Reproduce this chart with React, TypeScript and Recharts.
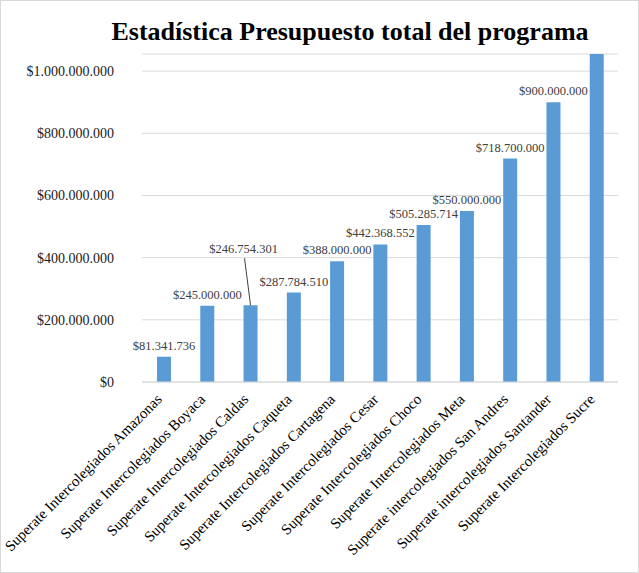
import React from 'react';
import { BarChart, Bar, XAxis, YAxis, CartesianGrid, LabelList } from 'recharts';

// program budget per location
const programas = [
  'Superate Intercolegiados Amazonas',
  'Superate Intercolegiados Boyaca',
  'Superate Intercolegiados Caldas',
  'Superate Intercolegiados Caqueta',
  'Superate Intercolegiados Cartagena',
  'Superate Intercolegiados Cesar',
  'Superate Intercolegiados Choco',
  'Superate Intercolegiados Meta',
  'Superate intercolegiados San Andres',
  'Superate intercolegiados Santander',
  'Superate Intercolegiados Sucre',
];
const presupuesto = [
  81341736, 245000000, 246754301, 287784510, 388000000, 442368552,
  505285714, 550000000, 718700000, 900000000, 1055000000,
];
const yTicks = [0, 200000000, 400000000, 600000000, 800000000, 1000000000];

const data = programas.map((name, i) => ({ name, value: presupuesto[i] }));

const serif = '"Liberation Serif", "Times New Roman", serif';

const money = (v: number) => '$' + String(Math.round(v)).replace(/\B(?=(\d{3})+(?!\d))/g, '.');

const XTick = (props: any) => {
  const { x, y, payload } = props;
  return (
    <g transform={`translate(${x - 5},${y + 6})`}>
      <text x={0} y={0} dy={6} textAnchor="end" transform="rotate(-45)" fill="#000" fontSize={15} fontFamily={serif}>
        {payload.value}
      </text>
    </g>
  );
};

const YTick = (props: any) => {
  const { x, y, payload } = props;
  return (
    <text x={x} y={y} dy={5} textAnchor="end" fill="#1a1a1a" fontSize={14} fontFamily={serif}>
      {money(payload.value)}
    </text>
  );
};

const ValueLabel = (props: any) => {
  const { x, y, width, value, index } = props;
  if (value > 1000000000) return null; // hidden behind the title in the original
  const cx = x + width / 2;
  if (index === 2) {
    // pushed up with a leader line so it clears its neighbour
    const ly = y - 52;
    return (
      <g>
        <line x1={cx - 6} y1={ly + 5} x2={cx} y2={y} stroke="#404040" strokeWidth={1} />
        <text x={cx - 7} y={ly} textAnchor="middle" fill="#404040" fontSize={12.5} fontFamily={serif}>
          {money(value)}
        </text>
      </g>
    );
  }
  return (
    <text x={cx} y={y - 7} textAnchor="middle" fill="#404040" fontSize={12.5} fontFamily={serif}>
      {money(value)}
    </text>
  );
};

export default function App() {
  return (
    <div
      style={{
        position: 'absolute',
        left: 0,
        top: 0,
        width: 637,
        height: 571,
        border: '1px solid #d9d9d9',
        background: '#fff',
      }}
    >
      <div
        style={{
          position: 'absolute',
          left: 0,
          width: 698,
          top: 16,
          textAlign: 'center',
          fontFamily: serif,
          fontWeight: 'bold',
          fontSize: 26,
          color: '#000',
        }}
      >
        Estadística Presupuesto total del programa
      </div>
      <BarChart
        width={637}
        height={571}
        data={data}
        margin={{ top: 53, right: 20, left: 0, bottom: 10 }}
        style={{ position: 'absolute', left: 0, top: 0 }}
      >
        <CartesianGrid vertical={false} stroke="#d9d9d9" />
        <XAxis
          dataKey="name"
          interval={0}
          height={180}
          tick={<XTick />}
          tickLine={false}
          axisLine={{ stroke: '#d9d9d9' }}
        />
        <YAxis
          width={141}
          domain={[0, 1055000000]}
          ticks={yTicks}
          allowDataOverflow
          tickLine={false}
          axisLine={false}
          tickSize={0}
          tickMargin={28}
          tick={<YTick />}
        />
        <Bar dataKey="value" fill="#5B9BD5" barSize={14} isAnimationActive={false}>
          <LabelList dataKey="value" content={<ValueLabel />} />
        </Bar>
      </BarChart>
    </div>
  );
}
